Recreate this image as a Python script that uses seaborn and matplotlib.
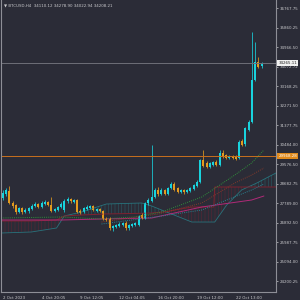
import numpy as np
import pandas as pd
import matplotlib
matplotlib.use("Agg")
import matplotlib.pyplot as plt
import seaborn as sns
from matplotlib.transforms import blended_transform_factory

# ---------------- data (BTCUSD, H4) ----------------
opens = [28024, 28209, 28347, 27794, 27702, 27379, 27564, 27379, 27425, 27518,
         27656, 27748, 27610, 27748, 27840, 27702, 27425, 27471, 27610, 27471,
         27886, 27978, 27840, 27932, 27425, 27379, 27518, 27564, 27656, 27425,
         27518, 27425, 27057, 27057, 26642, 26688, 26734, 26780, 26872, 26642,
         26734, 26780, 26780, 27241, 27103, 27794, 27886, 28070, 28393, 28209,
         28393, 28209, 28485, 28669, 28485, 28301, 28393, 28301, 28347, 28439,
         28577, 28761, 29775, 29637, 29452, 29544, 29683, 29544, 30097, 30005,
         29867, 29959, 29913, 29867, 30650, 30512, 31157, 31525, 33460, 34290,
         34110.12]
highs = [28393, 28485, 28577, 27886, 27748, 27610, 27610, 27564, 27610, 27748,
         27840, 27794, 27886, 27932, 27886, 28070, 27564, 27656, 27840, 27978,
         28070, 28024, 27978, 27978, 27518, 27610, 27702, 27702, 27702, 27564,
         27564, 27471, 27149, 27149, 26780, 26826, 26918, 26918, 26965, 26826,
         26872, 26918, 27241, 27333, 27840, 28024, 30466, 28485, 28531, 28485,
         28439, 28531, 28761, 28761, 28531, 28439, 28439, 28439, 28531, 28669,
         28853, 29821, 30235, 29729, 29683, 29729, 29775, 30235, 30235, 30051,
         30005, 30005, 30005, 30696, 30742, 31295, 31618, 35672, 35211, 34520,
         34278.90]
lows = [27932, 28116, 27748, 27564, 27287, 27333, 27287, 27333, 27333, 27471,
        27610, 27564, 27564, 27702, 27656, 27379, 27379, 27425, 27564, 27379,
        27794, 27794, 27794, 27333, 27287, 27333, 27471, 27518, 27425, 27379,
        27379, 27011, 26965, 26550, 26504, 26642, 26688, 26734, 26550, 26550,
        26688, 26734, 26734, 27057, 27057, 27702, 27840, 28024, 28116, 28162,
        28162, 28162, 28439, 28347, 28255, 28255, 28209, 28255, 28301, 28393,
        28531, 28715, 29452, 29406, 29406, 29498, 29498, 29498, 29867, 29821,
        29821, 29821, 29775, 29821, 30420, 30420, 31111, 31479, 33414, 34013,
        34022.94]
closes = [28255, 28393, 27794, 27656, 27379, 27564, 27379, 27471, 27564, 27656,
          27748, 27610, 27794, 27840, 27702, 27425, 27518, 27610, 27748, 27886,
          27978, 27886, 27932, 27379, 27333, 27564, 27610, 27656, 27471, 27518,
          27425, 27057, 27011, 26642, 26734, 26780, 26826, 26872, 26642, 26780,
          26826, 26872, 27195, 27103, 27794, 27932, 28070, 28393, 28209, 28393,
          28209, 28485, 28669, 28393, 28301, 28393, 28301, 28393, 28485, 28623,
          28761, 29775, 29498, 29452, 29637, 29683, 29544, 30097, 29913, 29867,
          29959, 29867, 29821, 30604, 30466, 31249, 31525, 33460, 34290, 34059,
          34208.21]

# Ichimoku-style cloud (spans) read at sparse bar positions
cloud_pos = [-0.5, 8.8, 16.6, 19.0, 24.3, 32.0, 42.9, 46.0, 50.6, 58.4, 65.2, 65.5, 69.2, 73.8, 78.5, 85.0]
span_a = [26412, 26458, 26642, 27195, 27379, 27748, 27794, 27656, 27379, 26918, 26918, 26918, 27702, 28393, 28715, 29222]
span_b = [26965, 26965, 27010, 27195, 27240, 27290, 27320, 27333, 27400, 27610, 27610, 28531, 28531, 28531, 28531, 28531]

# moving averages read at sparse bar positions
ma_magenta_pos = [-0.5, 18.1, 30.5, 46.0, 61.5, 76.9, 80.7]
ma_magenta = [27011, 27011, 27057, 27103, 27610, 27932, 28116]
ma_green_pos = [-0.5, 18.1, 30.5, 40.7, 49.1, 61.5, 71.7, 76.9, 80.7]
ma_green = [27103, 27149, 27057, 27149, 27379, 28070, 29084, 29637, 30235]
ma_brown_pos = [30.5, 48.1, 61.5, 71.7, 76.9, 80.7]
ma_brown = [26918, 27287, 27794, 28715, 29084, 29406]
ma_teal_pos = [30.5, 49.1, 61.5, 76.9, 80.7]
ma_teal = [26826, 27195, 27471, 28393, 28669]

level_orange = 29968.28
bid_price = 34265.11

ytick_labels = ["36767.75", "35860.25", "34966.50", "34072.72", "33168.25", "32271.50",
                "31377.75", "30484.00", "29576.50", "28682.75", "27789.00", "26892.50",
                "25987.75", "25094.00", "24200.25"]
xtick_pos = [0, 12, 24, 36, 48, 60, 72]
xtick_labels = ["2 Oct 2023", "4 Oct 20:05", "9 Oct 12:05", "12 Oct 04:05",
                "16 Oct 20:00", "19 Oct 12:00", "22 Oct 13:00"]
symbol = "BTCUSD,H4"

# ---------------- style ----------------
BG = "#2b2c37"
TXT = "#c9c9cc"
BULL = "#19d3dd"
BEAR = "#e39a1e"
sns.set_style("dark", {"axes.facecolor": BG, "figure.facecolor": BG})
plt.rcParams["font.family"] = ["DejaVu Sans"]
plt.rcParams["hatch.linewidth"] = 0.4

fig = plt.figure(figsize=(3, 3), dpi=100)
fig.patch.set_facecolor(BG)
ax = fig.add_axes([0.004, 8 / 300, 275 / 300, 292 / 300])
ax.set_facecolor(BG)

df = pd.DataFrame({"o": opens, "h": highs, "l": lows, "c": closes})
df["i"] = np.arange(len(df))
bull = df["c"] >= df["o"]
cols = np.where(bull, BULL, BEAR)

# cloud
ca = np.array(span_a, float)
cb = np.array(span_b, float)
ax.fill_between(cloud_pos, ca, cb, where=ca >= cb, interpolate=True,
                facecolor="none", edgecolor="#2a7d84", hatch="|||||", linewidth=0, alpha=0.6)
ax.fill_between(cloud_pos, ca, cb, where=ca < cb, interpolate=True,
                facecolor="none", edgecolor="#6e2434", hatch="|||||", linewidth=0, alpha=0.7)
ax.plot(cloud_pos, span_a, color="#287f88", lw=0.6, alpha=0.85)
ax.plot(cloud_pos, span_b, color="#7e2230", lw=0.7)

# moving averages
sns.lineplot(x=ma_magenta_pos, y=ma_magenta, ax=ax, color="#b02a78", lw=0.7)
sns.lineplot(x=ma_green_pos, y=ma_green, ax=ax, color="#2f8f3a", lw=0.7, linestyle=(0, (1, 1.2)))
sns.lineplot(x=ma_brown_pos, y=ma_brown, ax=ax, color="#843a2c", lw=0.7, linestyle=(0, (1, 1.2)))
sns.lineplot(x=ma_teal_pos, y=ma_teal, ax=ax, color="#2a8190", lw=0.7, linestyle=(0, (1, 1.2)))

# candles
ax.vlines(df["i"], df["l"], df["h"], colors=cols, linewidth=0.55)
body_lo = np.minimum(df["o"], df["c"])
body_h = np.maximum(np.abs(df["c"] - df["o"]), 25)
ax.bar(df["i"], body_h, bottom=body_lo, width=0.62, color=cols, linewidth=0)

# horizontal lines
ax.axhline(level_orange, color="#c8701e", lw=0.7)
ax.axhline(bid_price, color="#6e6f78", lw=0.7)

ax.set_xlim(-0.5, 84.5)
ax.set_ylim(23694, 37146)

# axes decoration
ax.spines["top"].set_visible(False)
for s in ["right", "bottom", "left"]:
    ax.spines[s].set_visible(True)
    ax.spines[s].set_color("#8d8e96")
    ax.spines[s].set_linewidth(0.8)
ax.yaxis.tick_right()
ax.set_yticks([float(t) for t in ytick_labels])
ax.set_yticklabels(ytick_labels)
ax.set_xticks(xtick_pos)
ax.set_xticklabels(xtick_labels, ha="left")
ax.tick_params(axis="y", colors=TXT, labelsize=2.9, length=1.5, width=0.5, pad=1.2, labelcolor=TXT)
ax.tick_params(axis="x", colors=TXT, labelsize=2.9, length=1.5, width=0.5, pad=1.2, labelcolor=TXT)
ax.grid(False)
ax.set_xlabel("")
ax.set_ylabel("")

# price labels on the right scale
tr = blended_transform_factory(ax.transAxes, ax.transData)
ax.text(1.008, level_orange, f"{level_orange:.2f}", transform=tr, fontsize=2.9, color="#ffffff",
        va="center", ha="left", clip_on=False,
        bbox=dict(boxstyle="square,pad=0.25", facecolor="#e08a1c", edgecolor="none"))
ax.text(1.008, bid_price, f"{bid_price:.2f}", transform=tr, fontsize=2.9, color="#222222",
        va="center", ha="left", clip_on=False,
        bbox=dict(boxstyle="square,pad=0.25", facecolor="#f0f0f0", edgecolor="none"))

# header
hdr = f"\u25bc {symbol}  {opens[-1]:.2f} {highs[-1]:.2f} {lows[-1]:.2f} {closes[-1]:.2f}"
ax.text(0.012, 0.988, hdr, transform=ax.transAxes, fontsize=2.9, color=TXT, va="top", ha="left")

fig.savefig("out.png", dpi=100, facecolor=BG)
